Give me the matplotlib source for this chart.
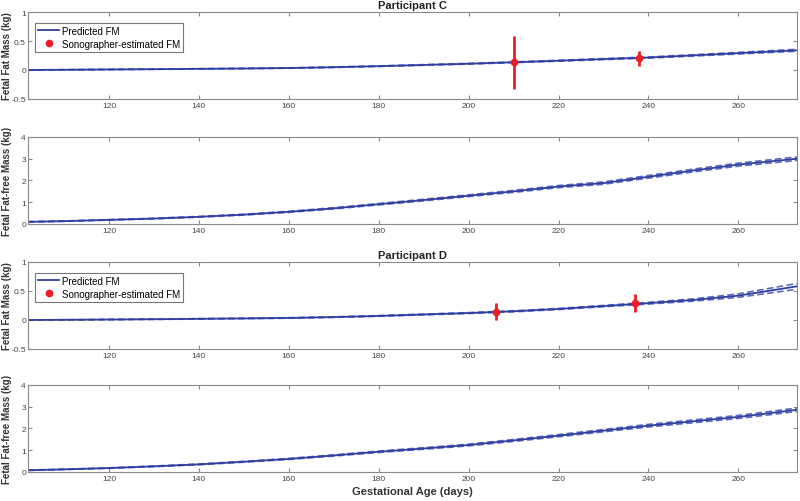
import matplotlib.pyplot as plt
import numpy as np

plt.rcParams['font.family'] = ['Liberation Sans', 'DejaVu Sans']

# gestational age grid (days)
days = [102, 110, 120, 130, 140, 150, 160, 170, 180, 190, 200, 210, 220, 230, 240, 250, 260, 273]

# participant C
c_fm = [0.0, 0.004, 0.009, 0.014, 0.02, 0.026, 0.034, 0.048, 0.066, 0.087, 0.108, 0.133, 0.16, 0.188, 0.215, 0.252, 0.29, 0.34]
c_fm_ci = [0.002, 0.002, 0.003, 0.003, 0.003, 0.004, 0.004, 0.005, 0.005, 0.006, 0.006, 0.007, 0.008, 0.009, 0.01, 0.012, 0.014, 0.017]
c_ffm = [0.1, 0.13, 0.19, 0.25, 0.33, 0.43, 0.56, 0.72, 0.91, 1.1, 1.3, 1.5, 1.72, 1.88, 2.17, 2.46, 2.73, 3.0]
c_ffm_ci = [0.01, 0.01, 0.012, 0.015, 0.018, 0.02, 0.024, 0.028, 0.032, 0.036, 0.04, 0.045, 0.05, 0.055, 0.06, 0.065, 0.07, 0.08]
c_obs_day = [210, 238]
c_obs_fm = [0.13, 0.2]
c_obs_err = [0.46, 0.13]

# participant D
d_fm = [0.0, 0.003, 0.008, 0.013, 0.02, 0.027, 0.035, 0.05, 0.07, 0.095, 0.12, 0.15, 0.19, 0.24, 0.29, 0.345, 0.42, 0.58]
d_fm_ci = [0.002, 0.002, 0.003, 0.003, 0.004, 0.004, 0.005, 0.005, 0.006, 0.007, 0.008, 0.009, 0.01, 0.012, 0.015, 0.02, 0.03, 0.05]
d_ffm = [0.08, 0.12, 0.18, 0.26, 0.35, 0.47, 0.6, 0.76, 0.93, 1.08, 1.24, 1.45, 1.67, 1.9, 2.13, 2.33, 2.53, 2.86]
d_ffm_ci = [0.01, 0.01, 0.012, 0.015, 0.018, 0.02, 0.024, 0.028, 0.032, 0.036, 0.04, 0.045, 0.05, 0.055, 0.06, 0.065, 0.07, 0.08]
d_obs_day = [206, 237]
d_obs_fm = [0.145, 0.29]
d_obs_err = [0.15, 0.15]

xticks = [120, 140, 160, 180, 200, 220, 240, 260]
fm_ticks = [-0.5, 0, 0.5, 1]
fm_labels = ['-0.5', '0', '0.5', '1']
ffm_ticks = [0, 1, 2, 3, 4]
ffm_labels = ['0', '1', '2', '3', '4']

line_col = '#2f3f9f'
ci_col = '#5a6ac0'
red = '#ee1c24'
grey = '#8a8a8a'

fig = plt.figure(figsize=(8, 5.02), dpi=100)
left, width, h = 0.035, 0.961, 0.1733
bottoms = [0.8008, 0.5518, 0.3028, 0.0578]
axes = [fig.add_axes([left, b, width, h]) for b in bottoms]


def style(ax, yt, yl):
    ax.set_xlim(102, 273)
    ax.set_xticks(xticks)
    ax.set_xticklabels([str(t) for t in xticks])
    ax.set_yticks(yt)
    ax.set_yticklabels(yl)
    ax.set_ylim(yt[0], yt[-1])
    ax.tick_params(direction='in', top=True, right=True, length=3, width=0.8,
                   colors=grey, labelsize=6, labelcolor='#444444', pad=2)
    ax.tick_params(axis='y', pad=1.5)
    for s in ax.spines.values():
        s.set_color(grey)
        s.set_linewidth(0.8)


def draw_mass(ax, y, ci):
    y = np.array(y)
    ci = np.array(ci)
    ax.plot(days, y + ci, '--', color=ci_col, lw=1.2, dashes=(4, 2))
    ax.plot(days, y - ci, '--', color=ci_col, lw=1.2, dashes=(4, 2))
    ax.plot(days, y, color=line_col, lw=1.3)


for ax_fm, ax_ffm, fm, fm_ci, ffm, ffm_ci, od, ov, oe, title in [
        (axes[0], axes[1], c_fm, c_fm_ci, c_ffm, c_ffm_ci, c_obs_day, c_obs_fm, c_obs_err, 'Participant C'),
        (axes[2], axes[3], d_fm, d_fm_ci, d_ffm, d_ffm_ci, d_obs_day, d_obs_fm, d_obs_err, 'Participant D')]:
    draw_mass(ax_fm, fm, fm_ci)
    ln, = ax_fm.plot([], [], color=line_col, lw=1.3, label='Predicted FM')
    ax_fm.errorbar(od, ov, yerr=oe, fmt='o', color=red, ms=4.5, elinewidth=2, capsize=0, zorder=5)
    pt, = ax_fm.plot([], [], 'o', color=red, ms=4.5, label='Sonographer-estimated FM')
    style(ax_fm, fm_ticks, fm_labels)
    ax_fm.set_ylabel('Fetal Fat Mass (kg)', fontsize=7, fontweight='bold', color='#333333')
    ax_fm.yaxis.set_label_coords(-0.0205, 0.5)
    ax_fm.set_title(title, fontsize=8, fontweight='bold', color='#222222', pad=3)
    leg = ax_fm.legend(handles=[ln, pt], loc='upper left', fontsize=7, frameon=True, fancybox=False,
                       edgecolor='#555555', borderpad=0.3, labelspacing=0.3, handlelength=2.2,
                       handletextpad=0.3, bbox_to_anchor=(0.003, 0.93))
    leg.get_frame().set_linewidth(0.8)

    draw_mass(ax_ffm, ffm, ffm_ci)
    style(ax_ffm, ffm_ticks, ffm_labels)
    ax_ffm.set_ylabel('Fetal Fat-free Mass (kg)', fontsize=7, fontweight='bold', color='#333333')
    ax_ffm.yaxis.set_label_coords(-0.0205, 0.5)

axes[3].set_xlabel('Gestational Age (days)', fontsize=8, fontweight='bold', color='#333333', labelpad=3)

plt.savefig('out.png', dpi=100)
